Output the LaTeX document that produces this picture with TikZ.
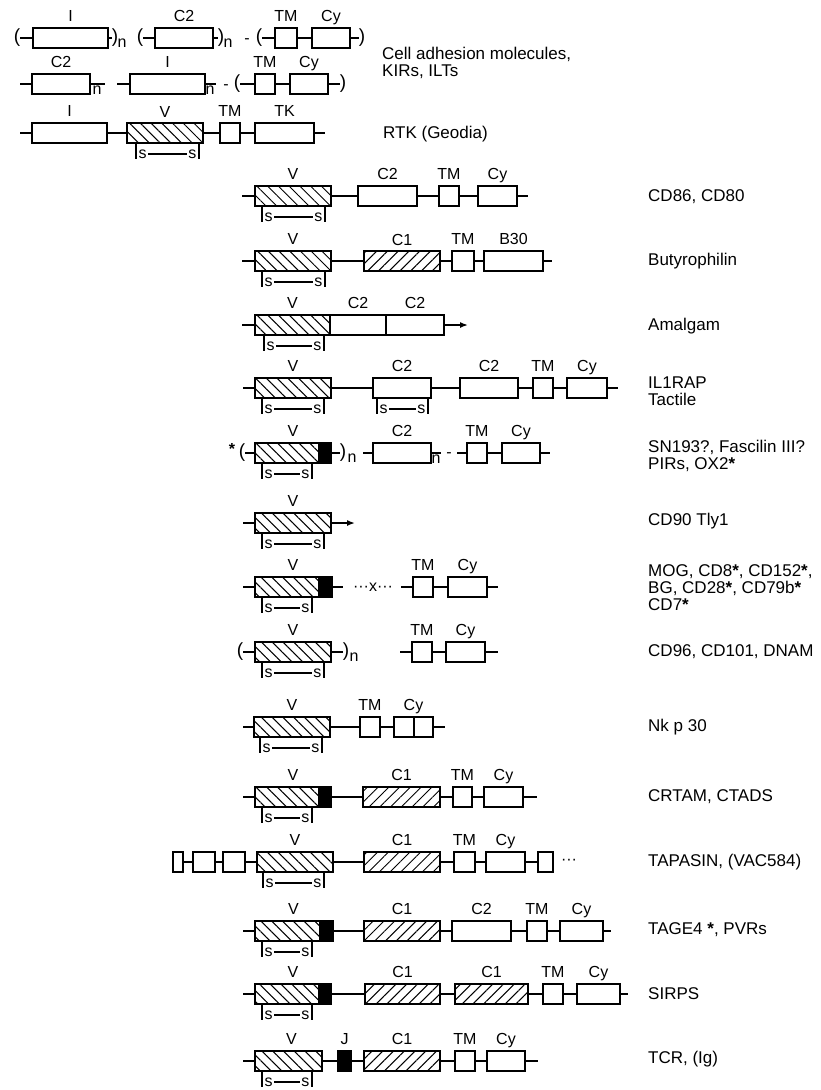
\documentclass[tikz,border=0pt]{standalone}
\usepackage{fontspec}
\setmainfont{Liberation Sans}
\usepackage{tikz}
\usetikzlibrary{arrows.meta,patterns.meta}
\newcommand\lblfont{\fontsize{16}{18}\selectfont}
\newcommand\famfont{\fontsize{17}{17}\selectfont}
\newcommand\parenfont{\fontsize{19}{20}\selectfont}
\newcommand\st{{\bfseries *}}

\tikzset{
  dom/.style={draw, line width=2pt, inner sep=0pt, minimum height=20pt},
  vdom/.style={dom, pattern={Lines[angle=-45,distance=7.6pt,line width=1pt]}},
  cdom/.style={dom, pattern={Lines[angle=45,distance=7.6pt,line width=1pt]}},
  jdom/.style={dom, fill=black},
  xspan/.style 2 args={minimum width={(#2-#1)*1pt}, at={({(#1+#2)/2},\yr)}},
  lbl/.style={font=\lblfont, inner sep=0pt, text depth=0pt},
  lab/.style={label={[lbl]above:#1}},
  ln/.style={line width=2pt},
  arr/.style={line width=1.5pt, -{Latex[length=8pt,width=6pt]}},
  sym/.style={font=\lblfont, inner sep=0pt},
  sl/.style={font=\lblfont, inner sep=1.5pt},
  paren/.style={font=\parenfont, inner sep=0pt},
  fam/.style={font=\famfont, anchor=west, align=left, inner sep=0pt},
}

\begin{document}
\begin{tikzpicture}[x=1pt,y=-1pt,label distance=5pt]
  \useasboundingbox (0,0) rectangle (820,1090);

  % row 1: (I)n (C2)n - (TM Cy)
  \def\yr{38}
  \node[paren] (r1p1) at (17,\yr) {(};
  \node[dom,xspan={33}{108},lab=I] (r1i) {};
  \node[paren] (r1p2) at (115,\yr) {)};
  \node[sym] (r1n1) at (122,\yr+5) {n};
  \node[paren] (r1p3) at (140,\yr) {(};
  \node[dom,xspan={155}{213},lab=C2] (r1c2) {};
  \node[paren] (r1p4) at (221,\yr) {)};
  \node[sym] (r1n2) at (228,\yr+5) {n};
  \node[sym] (r1d) at (247,\yr+3) {-};
  \node[paren] (r1p5) at (259,\yr) {(};
  \node[dom,xspan={275}{297},lab=TM] (r1tm) {};
  \node[dom,xspan={312}{350},lab=Cy] (r1cy) {};
  \node[paren] (r1p6) at (362,\yr) {)};
  \draw[ln] (r1p1) -- (r1i) -- (r1p2) (r1p3) -- (r1c2) -- (r1p4)
            (r1p5) -- (r1tm) -- (r1cy) -- (r1p6);

  % row 2: C2 n  I n - (TM Cy)
  \def\yr{84}
  \coordinate (r2a) at (20,\yr);
  \node[dom,xspan={32}{90},lab=C2] (r2c2) {};
  \coordinate (r2b) at (105,\yr);
  \node[sym,anchor=north] (r2n1) at (97,\yr+2) {n};
  \coordinate (r2c) at (117,\yr);
  \node[dom,xspan={130}{205},lab=I] (r2i) {};
  \coordinate (r2d) at (216,\yr);
  \node[sym,anchor=north] (r2n2) at (210,\yr+2) {n};
  \node[sym] (r2dash) at (226,\yr+3) {-};
  \node[paren] (r2p1) at (237,\yr) {(};
  \node[dom,xspan={255}{275},lab=TM] (r2tm) {};
  \node[dom,xspan={290}{328},lab=Cy] (r2cy) {};
  \node[paren] (r2p2) at (343,\yr) {)};
  \draw[ln] (r2a) -- (r2c2) -- (r2b) (r2c) -- (r2i) -- (r2d)
            (r2p1) -- (r2tm) -- (r2cy) -- (r2p2);

  % row 3: RTK
  \def\yr{133}
  \coordinate (rtka) at (20,\yr);
  \node[dom,xspan={32}{107},lab=I] (rtki) {};
  \node[vdom,xspan={127}{203},lab=V] (rtkv) {};
  \node[dom,xspan={220}{240},lab=TM] (rtktm) {};
  \node[dom,xspan={255}{314},lab=TK] (rtktk) {};
  \coordinate (rtkb) at (325,\yr);
  \draw[ln] (rtka) -- (rtki) -- (rtkv) -- (rtktm) -- (rtktk) -- (rtkb);

  % CD86, CD80
  \def\yr{196}
  \coordinate (cd86a) at (242,\yr);
  \node[vdom,xspan={255}{331},lab=V] (cd86v) {};
  \node[dom,xspan={358}{417},lab=C2] (cd86c2) {};
  \node[dom,xspan={439}{459},lab=TM] (cd86tm) {};
  \node[dom,xspan={478}{517},lab=Cy] (cd86cy) {};
  \coordinate (cd86b) at (528,\yr);
  \draw[ln] (cd86a) -- (cd86v) -- (cd86c2) -- (cd86tm) -- (cd86cy) -- (cd86b);

  % Butyrophilin
  \def\yr{261}
  \coordinate (btna) at (242,\yr);
  \node[vdom,xspan={255}{331},lab=V] (btnv) {};
  \node[cdom,xspan={364}{440},lab=C1] (btnc1) {};
  \node[dom,xspan={452}{474},lab=TM] (btntm) {};
  \node[dom,xspan={484}{543},lab=B30] (btnb30) {};
  \coordinate (btnb) at (552,\yr);
  \draw[ln] (btna) -- (btnv) -- (btnc1) -- (btntm) -- (btnb30) -- (btnb);

  % Amalgam
  \def\yr{325}
  \coordinate (amga) at (242,\yr);
  \node[vdom,xspan={255}{330},lab=V] (amgv) {};
  \node[dom,xspan={330}{386},lab=C2] (amgc2a) {};
  \node[dom,xspan={386}{444},lab=C2] (amgc2b) {};
  \coordinate (amgb) at (468,\yr);
  \draw[ln] (amga) -- (amgv);
  \draw[arr] (amgc2b) -- (amgb);

  % IL1RAP, Tactile
  \def\yr{388}
  \coordinate (ilra) at (243,\yr);
  \node[vdom,xspan={255}{331},lab=V] (ilrv) {};
  \node[dom,xspan={373}{431},lab=C2] (ilrc2a) {};
  \node[dom,xspan={460}{518},lab=C2] (ilrc2b) {};
  \node[dom,xspan={533}{553},lab=TM] (ilrtm) {};
  \node[dom,xspan={567}{607},lab=Cy] (ilrcy) {};
  \coordinate (ilrb) at (618,\yr);
  \draw[ln] (ilra) -- (ilrv) -- (ilrc2a) -- (ilrc2b) -- (ilrtm) -- (ilrcy) -- (ilrb);

  % SN193, Fascilin III, PIRs, OX2
  \def\yr{453}
  \node[sym] (snst) at (232,\yr-4) {\st};
  \node[paren] (snp1) at (242,\yr) {(};
  \node[vdom,xspan={255}{319},label={[lbl,xshift=6pt]above:V}] (snv) {};
  \node[jdom,xspan={319}{331}] (snj) {};
  \node[paren] (snp2) at (343,\yr) {)};
  \node[sym] (snn1) at (352,\yr+5) {n};
  \coordinate (sna) at (363,\yr);
  \node[dom,xspan={373}{431},lab=C2] (snc2) {};
  \coordinate (snb) at (441,\yr);
  \node[sym,anchor=north] (snn2) at (436,\yr+2) {n};
  \node[sym] (sndash) at (449,\yr+2) {-};
  \coordinate (snc) at (457,\yr);
  \node[dom,xspan={467}{487},lab=TM] (sntm) {};
  \node[dom,xspan={502}{540},lab=Cy] (sncy) {};
  \coordinate (snd) at (550,\yr);
  \draw[ln] (snp1) -- (snv) -- (snj) -- (snp2) (sna) -- (snc2) -- (snb)
            (snc) -- (sntm) -- (sncy) -- (snd);

  % CD90 Tly1
  \def\yr{523}
  \coordinate (cd90a) at (243,\yr);
  \node[vdom,xspan={255}{331},lab=V] (cd90v) {};
  \coordinate (cd90b) at (355,\yr);
  \draw[ln] (cd90a) -- (cd90v);
  \draw[arr] (cd90v) -- (cd90b);

  % MOG, CD8, ...
  \def\yr{587}
  \coordinate (moga) at (243,\yr);
  \node[vdom,xspan={255}{319},label={[lbl,xshift=6pt]above:V}] (mogv) {};
  \node[jdom,xspan={319}{332}] (mogj) {};
  \coordinate (mogb) at (343,\yr);
  \node[sym] (mogx) at (373,\yr) {···x···};
  \coordinate (mogc) at (401,\yr);
  \node[dom,xspan={413}{433},lab=TM] (mogtm) {};
  \node[dom,xspan={448}{487},lab=Cy] (mogcy) {};
  \coordinate (mogd) at (498,\yr);
  \draw[ln] (moga) -- (mogv) -- (mogj) -- (mogb) (mogc) -- (mogtm) -- (mogcy) -- (mogd);

  % CD96, CD101, DNAM
  \def\yr{652}
  \node[paren] (cd96p1) at (240,\yr) {(};
  \node[vdom,xspan={255}{331},lab=V] (cd96v) {};
  \node[paren] (cd96p2) at (346,\yr) {)};
  \node[sym] (cd96n) at (354,\yr+5) {n};
  \coordinate (cd96a) at (400,\yr);
  \node[dom,xspan={412}{432},lab=TM] (cd96tm) {};
  \node[dom,xspan={446}{485},lab=Cy] (cd96cy) {};
  \coordinate (cd96b) at (498,\yr);
  \draw[ln] (cd96p1) -- (cd96v) -- (cd96p2) (cd96a) -- (cd96tm) -- (cd96cy) -- (cd96b);

  % Nk p 30
  \def\yr{727}
  \coordinate (nka) at (243,\yr);
  \node[vdom,xspan={254}{330},lab=V] (nkv) {};
  \node[dom,xspan={360}{380},lab=TM] (nktm) {};
  \node[dom,xspan={394}{433},lab=Cy] (nkcy) {};
  \coordinate (nkb) at (445,\yr);
  \draw[ln] (nka) -- (nkv) -- (nktm) -- (nkcy) -- (nkb);
  \draw[ln] (nkcy.north) -- (nkcy.south);

  % CRTAM, CTADS
  \def\yr{797}
  \coordinate (crta) at (243,\yr);
  \node[vdom,xspan={255}{319},label={[lbl,xshift=6pt]above:V}] (crtv) {};
  \node[jdom,xspan={319}{331}] (crtj) {};
  \node[cdom,xspan={363}{440},lab=C1] (crtc1) {};
  \node[dom,xspan={453}{472},lab=TM] (crttm) {};
  \node[dom,xspan={484}{523},lab=Cy] (crtcy) {};
  \coordinate (crtb) at (537,\yr);
  \draw[ln] (crta) -- (crtv) -- (crtj) -- (crtc1) -- (crttm) -- (crtcy) -- (crtb);

  % TAPASIN, (VAC584)
  \def\yr{862}
  \node[dom,xspan={173}{183}] (tpn1) {};
  \node[dom,xspan={193}{215}] (tpn2) {};
  \node[dom,xspan={223}{245}] (tpn3) {};
  \node[vdom,xspan={257}{333},lab=V] (tpnv) {};
  \node[cdom,xspan={364}{440},lab=C1] (tpnc1) {};
  \node[dom,xspan={454}{475},lab=TM] (tpntm) {};
  \node[dom,xspan={486}{525},lab=Cy] (tpncy) {};
  \node[dom,xspan={538}{553}] (tpn4) {};
  \node[sym] (tpndots) at (569,\yr) {···};
  \draw[ln] (tpn1) -- (tpn2) -- (tpn3) -- (tpnv) -- (tpnc1) -- (tpntm) -- (tpncy) -- (tpn4);

  % TAGE4, PVRs
  \def\yr{931}
  \coordinate (tgea) at (243,\yr);
  \node[vdom,xspan={255}{320},label={[lbl,xshift=6pt]above:V}] (tgev) {};
  \node[jdom,xspan={320}{333}] (tgej) {};
  \node[cdom,xspan={364}{440},lab=C1] (tgec1) {};
  \node[dom,xspan={452}{511},lab=C2] (tgec2) {};
  \node[dom,xspan={527}{547},lab=TM] (tgetm) {};
  \node[dom,xspan={560}{603},lab=Cy] (tgecy) {};
  \coordinate (tgeb) at (611,\yr);
  \draw[ln] (tgea) -- (tgev) -- (tgej) -- (tgec1) -- (tgec2) -- (tgetm) -- (tgecy) -- (tgeb);

  % SIRPS
  \def\yr{994}
  \coordinate (sira) at (243,\yr);
  \node[vdom,xspan={255}{319},label={[lbl,xshift=6pt]above:V}] (sirv) {};
  \node[jdom,xspan={319}{331}] (sirj) {};
  \node[cdom,xspan={365}{440},lab=C1] (sirc1a) {};
  \node[cdom,xspan={455}{528},lab=C1] (sirc1b) {};
  \node[dom,xspan={543}{563},lab=TM] (sirtm) {};
  \node[dom,xspan={577}{620},lab=Cy] (sircy) {};
  \coordinate (sirb) at (628,\yr);
  \draw[ln] (sira) -- (sirv) -- (sirj) -- (sirc1a) -- (sirc1b) -- (sirtm) -- (sircy) -- (sirb);

  % TCR, (Ig)
  \def\yr{1061}
  \coordinate (tcra) at (243,\yr);
  \node[vdom,xspan={255}{322},label={[lbl,xshift=3pt]above:V}] (tcrv) {};
  \node[jdom,xspan={338}{351},lab=J] (tcrj) {};
  \node[cdom,xspan={364}{440},lab=C1] (tcrc1) {};
  \node[dom,xspan={455}{475},lab=TM] (tcrtm) {};
  \node[dom,xspan={487}{525},lab=Cy] (tcrcy) {};
  \coordinate (tcrb) at (538,\yr);
  \draw[ln] (tcra) -- (tcrv) -- (tcrj) -- (tcrc1) -- (tcrtm) -- (tcrcy) -- (tcrb);

  % s--s bridges under the domains: left tick / right tick / row
  \foreach \xa/\xb/\yc in {136/199/133, 262/325/196, 262/325/261, 264/324/325,
      262/324/388, 377/428/388, 262/312/453, 262/324/523, 262/312/587,
      262/324/652, 260/322/727, 262/312/797, 263/324/862, 262/312/931,
      262/312/994, 262/312/1061}{
    \draw[ln] (\xa,\yc+10) -- (\xa,\yc+26) (\xb,\yc+10) -- (\xb,\yc+26);
    \node[sl,anchor=mid west] (sa) at (\xa+1,\yc+23) {s};
    \node[sl,anchor=mid east] (sb) at (\xb-1,\yc+23) {s};
    \draw[ln] (sa) -- (sb);
  }

  % family names
  \node[fam] (fcam) at (382,63) {Cell adhesion molecules,\\KIRs, ILTs};
  \node[fam] (frtk) at (383,134) {RTK (Geodia)};
  \node[fam] (fcd86) at (648,197) {CD86, CD80};
  \node[fam] (fbtn) at (648,261) {Butyrophilin};
  \node[fam] (famg) at (648,326) {Amalgam};
  \node[fam] (filr) at (648,391) {IL1RAP\\Tactile};
  \node[fam] (fsn) at (648,456) {SN193?, Fascilin III?\\PIRs, OX2\st};
  \node[fam] (fcd90) at (648,521) {CD90 Tly1};
  \node[fam] (fmog) at (648,588) {MOG, CD8\st, CD152\st,\\BG, CD28\st, CD79b\st\\CD7\st};
  \node[fam] (fcd96) at (648,652) {CD96, CD101, DNAM};
  \node[fam] (fnk) at (648,727) {Nk p 30};
  \node[fam] (fcrt) at (648,797) {CRTAM, CTADS};
  \node[fam] (ftpn) at (648,862) {TAPASIN, (VAC584)};
  \node[fam] (ftge) at (648,930) {TAGE4 \st, PVRs};
  \node[fam] (fsir) at (648,994) {SIRPS};
  \node[fam] (ftcr) at (648,1059) {TCR, (Ig)};
\end{tikzpicture}
\end{document}
